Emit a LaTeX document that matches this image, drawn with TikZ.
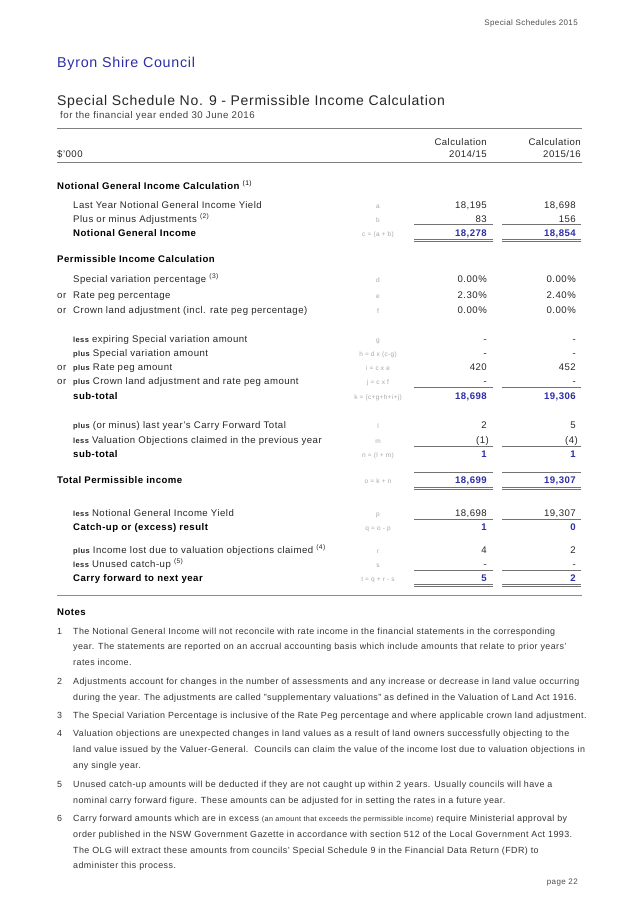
\documentclass[tikz,border=0pt]{standalone}
\usepackage{fontspec}
\setmainfont{Liberation Sans}[LetterSpace=5]
\newcommand\prefx{\fontsize{7.5}{8}\selectfont\bfseries}
\begin{document}
\begin{tikzpicture}[x=1pt,y=-1pt,
  lbl/.style={anchor=base west,inner sep=0,font=\fontsize{9.6}{10}\selectfont,text=black!85},
  hd/.style={anchor=base west,inner sep=0,font=\fontsize{9.6}{10}\selectfont\bfseries},
  fm/.style={anchor=base,inner sep=0,font=\fontsize{6.5}{7}\selectfont,text=black!35},
  val/.style={anchor=base east,inner sep=0,font=\fontsize{9.6}{10}\selectfont,text=black!85},
  tot/.style={anchor=base east,inner sep=0,font=\fontsize{9.6}{10}\selectfont\bfseries,text=tblue},
  nt/.style={anchor=base west,inner sep=0,font=\fontsize{8.9}{9}\selectfont,text=black!80},
  rl/.style={draw=black!55,line width=0.8pt}]
\definecolor{tblue}{RGB}{45,45,165}
\useasboundingbox (0,0) rectangle (637,902);
\node[anchor=base east,inner sep=0,font=\fontsize{8}{8}\selectfont,text=black!70] (hdr) at (578,25) {Special Schedules 2015};
\node[anchor=base west,inner sep=0,font=\fontsize{14.3}{16}\selectfont,text=tblue] (bsc) at (57,67) {Byron Shire Council};
\node[anchor=base west,inner sep=0,font=\fontsize{14}{16}\selectfont,text=black!85] (ttl) at (57,105) {Special Schedule No. 9 - Permissible Income Calculation};
\node[anchor=base west,inner sep=0,font=\fontsize{9.7}{10}\selectfont,text=black!75] (sub) at (60,118) {for the financial year ended 30 June 2016};
\draw[draw=black!50,line width=0.8pt] (57,128) -- (582,128);
\node[val] (c1) at (487,145) {Calculation};
\node[val] (c2) at (581,145) {Calculation};
\node[val] (y1) at (487,157) {2014/15};
\node[val] (y2) at (581,157) {2015/16};
\node[lbl] (k) at (57,157) {\$'000};
\draw[draw=black!50,line width=0.5pt] (57,162) -- (582,162);
% section 1
\node[hd] (h1) at (57,189) {Notional General Income Calculation \textsuperscript{\normalfont(1)}};
\node[lbl] (la) at (73,208) {Last Year Notional General Income Yield};
\node[fm] (fa) at (378,208) {a}; \node[val] (a1) at (487,208) {18,195}; \node[val] (a2) at (576,208) {18,698};
\node[lbl] (lb) at (73,222) {Plus or minus Adjustments \textsuperscript{(2)}};
\node[fm] (fb) at (378,222) {b}; \node[val] (b1) at (487,222) {83}; \node[val] (b2) at (576,222) {156};
\node[hd] (lc) at (73,236) {Notional General Income};
\node[fm] (fc) at (378,236) {c = (a + b)}; \node[tot] (cc1) at (487,236) {18,278}; \node[tot] (cc2) at (576,236) {18,854};
\foreach \y in {224}{\draw[rl] (414,\y)--(493,\y); \draw[rl] (502,\y)--(581,\y);}
\foreach \y in {239,241}{\draw[rl] (414,\y)--(493,\y); \draw[rl] (502,\y)--(581,\y);}
% section 2
\node[hd] (h2) at (57,262) {Permissible Income Calculation};
\node[lbl] (ld) at (73,282) {Special variation percentage \textsuperscript{(3)}};
\node[fm] (fd) at (378,282) {d}; \node[val] (d1) at (487,282) {0.00\%}; \node[val] (d2) at (576,282) {0.00\%};
\node[lbl] (le) at (73,298) {Rate peg percentage}; \node[lbl] (oe) at (57,298) {or};
\node[fm] (fe) at (378,298) {e}; \node[val] (e1) at (487,298) {2.30\%}; \node[val] (e2) at (576,298) {2.40\%};
\node[lbl] (lf) at (73,313) {Crown land adjustment (incl. rate peg percentage)}; \node[lbl] (of) at (57,313) {or};
\node[fm] (ff) at (378,313) {f}; \node[val] (f1) at (487,313) {0.00\%}; \node[val] (f2) at (576,313) {0.00\%};
\node[lbl] (lg) at (73,342) {{\prefx less} expiring Special variation amount};
\node[fm] (fg) at (378,342) {g}; \node[val] (g1) at (487,342) {-}; \node[val] (g2) at (576,342) {-};
\node[lbl] (lh) at (73,356) {{\prefx plus} Special variation amount};
\node[fm] (fh) at (378,356) {h = d x (c-g)}; \node[val] (h1v) at (487,356) {-}; \node[val] (h2v) at (576,356) {-};
\node[lbl] (li) at (73,370) {{\prefx plus} Rate peg amount}; \node[lbl] (oi) at (57,370) {or};
\node[fm] (fi) at (378,370) {i = c x e}; \node[val] (i1) at (487,370) {420}; \node[val] (i2) at (576,370) {452};
\node[lbl] (lj) at (73,384) {{\prefx plus} Crown land adjustment and rate peg amount}; \node[lbl] (oj) at (57,384) {or};
\node[fm] (fj) at (378,384) {j = c x f}; \node[val] (j1) at (487,384) {-}; \node[val] (j2) at (576,384) {-};
\node[hd] (lk) at (73,399) {sub-total};
\node[fm] (fk) at (378,399) {k = (c+g+h+i+j)}; \node[tot] (k1) at (487,399) {18,698}; \node[tot] (k2) at (576,399) {19,306};
\draw[rl] (414,387)--(493,387); \draw[rl] (502,387)--(581,387);
\node[lbl] (ll) at (73,428) {{\prefx plus} (or minus) last year's Carry Forward Total};
\node[fm] (fl) at (378,428) {l}; \node[val] (l1) at (487,428) {2}; \node[val] (l2) at (576,428) {5};
\node[lbl] (lm) at (73,443) {{\prefx less} Valuation Objections claimed in the previous year};
\node[fm] (fmm) at (378,443) {m}; \node[val] (m1) at (489,443) {(1)}; \node[val] (m2) at (578,443) {(4)};
\node[hd] (ln) at (73,457) {sub-total};
\node[fm] (fn) at (378,457) {n = (l + m)}; \node[tot] (n1) at (487,457) {1}; \node[tot] (n2) at (576,457) {1};
\draw[rl] (414,446)--(493,446); \draw[rl] (502,446)--(581,446);
\node[hd] (lo) at (57,483) {Total Permissible income};
\node[fm] (fo) at (378,483) {o = k + n}; \node[tot] (o1) at (487,483) {18,699}; \node[tot] (o2) at (576,483) {19,307};
\foreach \y in {472,487,489}{\draw[rl] (414,\y)--(493,\y); \draw[rl] (502,\y)--(581,\y);}
\node[lbl] (lp) at (73,516) {{\prefx less} Notional General Income Yield};
\node[fm] (fp) at (378,516) {p}; \node[val] (p1) at (487,516) {18,698}; \node[val] (p2) at (576,516) {19,307};
\node[hd] (lq) at (73,530) {Catch-up or (excess) result};
\node[fm] (fq) at (378,530) {q = o - p}; \node[tot] (q1) at (487,530) {1}; \node[tot] (q2) at (576,530) {0};
\draw[rl] (414,519)--(493,519); \draw[rl] (502,519)--(581,519);
\node[lbl] (lr) at (73,553) {{\prefx plus} Income lost due to valuation objections claimed \textsuperscript{(4)}};
\node[fm] (fr) at (378,553) {r}; \node[val] (r1) at (487,553) {4}; \node[val] (r2) at (576,553) {2};
\node[lbl] (ls) at (73,567) {{\prefx less} Unused catch-up \textsuperscript{(5)}};
\node[fm] (fs) at (378,567) {s}; \node[val] (s1) at (487,567) {-}; \node[val] (s2) at (576,567) {-};
\node[hd] (lt) at (73,581) {Carry forward to next year};
\node[fm] (ft) at (378,581) {t = q + r - s}; \node[tot] (t1) at (487,581) {5}; \node[tot] (t2) at (576,581) {2};
\foreach \y in {570,584,586}{\draw[rl] (414,\y)--(493,\y); \draw[rl] (502,\y)--(581,\y);}
\draw[draw=black!45,line width=0.6pt] (57,595) -- (582,595);
% notes
\node[hd] (nh) at (57,615) {Notes};
\foreach \n/\y in {1/634,2/684,3/718,4/736,5/787,6/821}{\node[nt] (nn\n) at (57,\y) {\n};}
\node[nt] (n1a) at (73,634) {The Notional General Income will not reconcile with rate income in the financial statements in the corresponding};
\node[nt] (n1b) at (73,649) {year. The statements are reported on an accrual accounting basis which include amounts that relate to prior years'};
\node[nt] (n1c) at (73,665) {rates income.};
\node[nt] (n2a) at (73,684) {Adjustments account for changes in the number of assessments and any increase or decrease in land value occurring};
\node[nt] (n2b) at (73,700) {during the year. The adjustments are called "supplementary valuations" as defined in the Valuation of Land Act 1916.};
\node[nt] (n3a) at (73,718) {The Special Variation Percentage is inclusive of the Rate Peg percentage and where applicable crown land adjustment.};
\node[nt] (n4a) at (73,736) {Valuation objections are unexpected changes in land values as a result of land owners successfully objecting to the};
\node[nt] (n4b) at (73,752) {land value issued by the Valuer-General.\ \ Councils can claim the value of the income lost due to valuation objections in};
\node[nt] (n4c) at (73,768) {any single year.};
\node[nt] (n5a) at (73,787) {Unused catch-up amounts will be deducted if they are not caught up within 2 years. Usually councils will have a};
\node[nt] (n5b) at (73,803) {nominal carry forward figure. These amounts can be adjusted for in setting the rates in a future year.};
\node[nt] (n6a) at (73,821) {Carry forward amounts which are in excess {\fontsize{7.2}{8}\selectfont(an amount that exceeds the permissible income)} require Ministerial approval by};
\node[nt] (n6b) at (73,837) {order published in the NSW Government Gazette in accordance with section 512 of the Local Government Act 1993.};
\node[nt] (n6c) at (73,853) {The OLG will extract these amounts from councils' Special Schedule 9 in the Financial Data Return (FDR) to};
\node[nt] (n6d) at (73,868) {administer this process.};
\node[anchor=base east,inner sep=0,font=\fontsize{8}{8}\selectfont,text=black!70] (pg) at (578,884) {page 22};
\end{tikzpicture}
\end{document}
